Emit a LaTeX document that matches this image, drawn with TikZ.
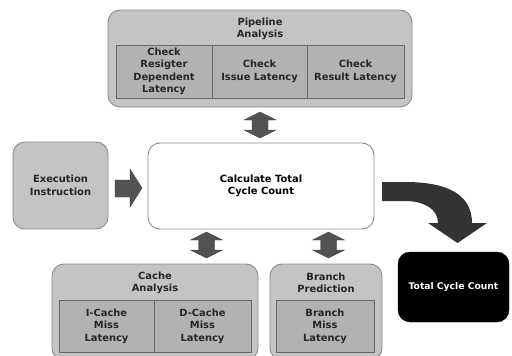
\documentclass[tikz,border=0pt]{standalone}
\usepackage{fontspec}
\setmainfont{DejaVu Sans}
\begin{document}
\begin{tikzpicture}[x=1pt,y=-1pt,
  outerbox/.style={draw=black!45,line width=0.9pt,fill=black!23,rounded corners=12pt,inner sep=0pt},
  cell/.style={draw=black!60,line width=0.8pt,fill=black!30,inner sep=0pt,minimum height=53pt},
  lbl/.style={font=\fontsize{9.9}{12.5}\selectfont\bfseries,text=black!85,align=center,inner sep=0pt},
  blockarrow/.style={fill=black!68,draw=black!75,line width=0.4pt},
  pics/vdarrow/.style={code={
    \filldraw[blockarrow] (0,-13) -- (16,-5) -- (8,-5) -- (8,5) -- (16,5) -- (0,13)
      -- (-16,5) -- (-8,5) -- (-8,-5) -- (-16,-5) -- cycle;}}
]
\useasboundingbox (0,0) rectangle (512,356);
\fill[white] (0,0) rectangle (512,356);

% Pipeline analysis
\node[outerbox,minimum width=304pt,minimum height=97pt] (pipe) at (260,58.5) {};
\node[lbl] (pipetitle) at (260,29) {Pipeline\\Analysis};
\node[cell,minimum width=96pt] (c1) at (164,71.5) {};
\node[cell,minimum width=95pt] (c2) at (259.5,71.5) {};
\node[cell,minimum width=97pt] (c3) at (355.5,71.5) {};
\node[lbl] (c1t) at (c1) {Check\\Resigter\\Dependent\\Latency};
\node[lbl] (c2t) at (c2) {Check\\Issue Latency};
\node[lbl] (c3t) at (c3) {Check\\Result Latency};

% Calculate
\node[draw=black!45,line width=0.9pt,fill=white,rounded corners=12pt,minimum width=226pt,minimum height=86pt,inner sep=0pt] (calc) at (261,186) {};
\node[lbl,text=black] (calct) at (calc) {Calculate Total\\Cycle Count};

% Execution
\node[outerbox,minimum width=95pt,minimum height=87pt] (exec) at (60.5,185.5) {};
\node[lbl] (exect) at (exec) {Execution\\Instruction};

% Total
\node[draw=black,fill=black,rounded corners=12pt,minimum width=111pt,minimum height=70pt,inner sep=0pt] (total) at (453.5,287) {};
\node[lbl,text=white,font=\fontsize{9.2}{11}\selectfont\bfseries] (totalt) at (total) {Total Cycle Count};

% Cache analysis
\node[outerbox,minimum width=206pt,minimum height=96pt] (cache) at (155,312) {};
\node[lbl] (cachetitle) at (155,283) {Cache\\Analysis};
\node[cell,minimum width=95pt,minimum height=52pt] (ic) at (106.5,326) {};
\node[cell,minimum width=97pt,minimum height=52pt] (dc) at (202.5,326) {};
\node[lbl] (ict) at (ic) {I-Cache\\Miss\\Latency};
\node[lbl] (dct) at (dc) {D-Cache\\Miss\\Latency};

% Branch prediction
\node[outerbox,minimum width=112pt,minimum height=96pt] (branch) at (326,312) {};
\node[lbl] (branchtitle) at (326,283) {Branch\\Prediction};
\node[cell,minimum width=98pt,minimum height=52pt] (bm) at (325,326) {};
\node[lbl] (bmt) at (bm) {Branch\\Miss\\Latency};

% Double arrows
\pic at (260,125) {vdarrow};
\pic at (206.5,245) {vdarrow};
\pic at (328.5,245) {vdarrow};

% Execution -> calc arrow
\filldraw[blockarrow] (115,180) -- (130,180) -- (130,169) -- (142,188) -- (130,207) -- (130,197) -- (115,197) -- cycle;

% Curved arrow calc -> total
\fill[black!80] (382,182) -- (405,182) .. controls (450,182) and (472,196) .. (472,223)
  -- (487,223) -- (457.5,243) -- (428,223) -- (438,223)
  .. controls (438,209) and (424,201) .. (405,201) -- (382,201) -- cycle;
\end{tikzpicture}
\end{document}
